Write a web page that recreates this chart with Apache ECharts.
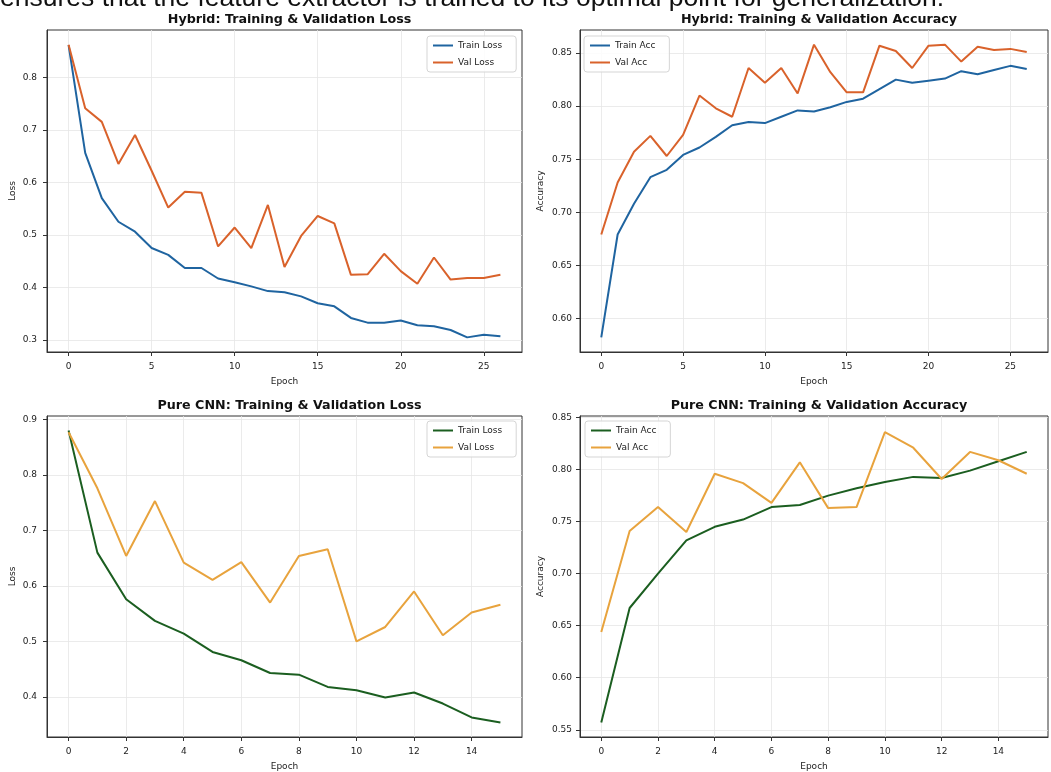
<!DOCTYPE html>
<html>
<head>
<meta charset="utf-8">
<script src="https://cdn.jsdelivr.net/npm/echarts@6/dist/echarts.min.js"></script>
<style>
html,body{margin:0;padding:0;background:#fff;}
#chart{width:1051px;height:772px;}
</style>
</head>
<body>
<div id="chart"></div>
<script>
// ---- data ----
const headline = "ensures that the feature extractor is trained to its optimal point for generalization.";
const hybridTrainLoss = [0.861,0.656,0.570,0.525,0.506,0.475,0.462,0.437,0.437,0.417,0.410,0.402,0.393,0.391,0.383,0.370,0.364,0.342,0.333,0.333,0.337,0.328,0.326,0.319,0.305,0.310,0.307];
const hybridValLoss = [0.862,0.741,0.715,0.635,0.690,0.622,0.552,0.582,0.580,0.478,0.514,0.475,0.557,0.439,0.498,0.536,0.522,0.424,0.425,0.464,0.431,0.407,0.457,0.415,0.418,0.418,0.424];
const hybridTrainAcc = [0.582,0.679,0.708,0.733,0.740,0.754,0.761,0.771,0.782,0.785,0.784,0.790,0.796,0.795,0.799,0.804,0.807,0.816,0.825,0.822,0.824,0.826,0.833,0.830,0.834,0.838,0.835];
const hybridValAcc = [0.679,0.728,0.757,0.772,0.753,0.773,0.810,0.798,0.790,0.836,0.822,0.836,0.812,0.858,0.832,0.813,0.813,0.857,0.852,0.836,0.857,0.858,0.842,0.856,0.853,0.854,0.851];
const cnnTrainLoss = [0.880,0.660,0.576,0.537,0.514,0.481,0.466,0.443,0.440,0.418,0.412,0.399,0.408,0.388,0.363,0.354];
const cnnValLoss = [0.877,0.776,0.654,0.753,0.642,0.611,0.643,0.570,0.654,0.666,0.500,0.526,0.590,0.511,0.552,0.566];
const cnnTrainAcc = [0.557,0.667,0.700,0.732,0.745,0.752,0.764,0.766,0.775,0.782,0.788,0.793,0.792,0.799,0.808,0.817];
const cnnValAcc = [0.644,0.741,0.764,0.740,0.796,0.787,0.768,0.807,0.763,0.764,0.836,0.821,0.791,0.817,0.809,0.796];
const hybridXTicks = [0,5,10,15,20,25];
const cnnXTicks = [0,2,4,6,8,10,12,14];
const lossTicksTop = [0.3,0.4,0.5,0.6,0.7,0.8];
const accTicksTop = [0.60,0.65,0.70,0.75,0.80,0.85];
const lossTicksBottom = [0.4,0.5,0.6,0.7,0.8,0.9];
const accTicksBottom = [0.55,0.60,0.65,0.70,0.75,0.80,0.85];
const titles = ["Hybrid: Training & Validation Loss","Hybrid: Training & Validation Accuracy","Pure CNN: Training & Validation Loss","Pure CNN: Training & Validation Accuracy"];

// ---- helpers ----
const pairs = arr => arr.map((v,i)=>[i,v]);
function bounds(arrs, ticks){
  let mn=Infinity,mx=-Infinity;
  arrs.forEach(a=>a.forEach(v=>{mn=Math.min(mn,v);mx=Math.max(mx,v);}));
  const m=(mx-mn)*0.05; mn-=m; mx+=m;
  // keep edge ticks that sit right at the boundary
  ticks.forEach(t=>{ if (t>mx && t-mx<0.003) mx=t+0.0015; if (t<mn && mn-t<0.003) mn=t-0.0015; });
  return [mn,mx];
}
const FONT = 'DejaVu Sans';
const grids = [
  {left:47, top:30, width:475, height:322},
  {left:580, top:30, width:468, height:322},
  {left:47, top:416, width:475, height:324},
  {left:580, top:416, width:468, height:324}
];
const panelDefs = [
  {tr:hybridTrainLoss, va:hybridValLoss, xt:hybridXTicks, yt:lossTicksTop, yname:'Loss', names:['Train Loss','Val Loss'], colors:['#1f64a0','#d9622b'], yfmt:v=>v.toFixed(1), ngap:30, lm:10},
  {tr:hybridTrainAcc, va:hybridValAcc, xt:hybridXTicks, yt:accTicksTop, yname:'Accuracy', names:['Train Acc','Val Acc'], colors:['#1f64a0','#d9622b'], yfmt:v=>v.toFixed(2), ngap:35, lm:8},
  {tr:cnnTrainLoss, va:cnnValLoss, xt:cnnXTicks, yt:lossTicksBottom, yname:'Loss', names:['CNN Train Loss','CNN Val Loss'], colors:['#1b5e20','#e8a33d'], yfmt:v=>v.toFixed(1), ngap:30, lm:10},
  {tr:cnnTrainAcc, va:cnnValAcc, xt:cnnXTicks, yt:accTicksBottom, yname:'Accuracy', names:['CNN Train Acc','CNN Val Acc'], colors:['#1b5e20','#e8a33d'], yfmt:v=>v.toFixed(2), ngap:35, lm:8}
];
const legendPos = [{left:427,top:36},{left:584,top:36},{left:427,top:421},{left:585,top:421}];

const option = {
  backgroundColor:'#fff',
  animation:false,
  title: titles.map((t,i)=>({
    text:t, left: grids[i].left + grids[i].width/2, top: grids[i].top - 22, textAlign:'center',
    textStyle:{fontFamily:FONT, fontSize:12.7, fontWeight:'bold', color:'#111'}
  })),
  graphic:[{type:'text', left:0, top:-15, style:{text:headline, font:'26.5px "Liberation Sans", Arial, sans-serif', fill:'#111'}}],
  grid: grids.map(g=>Object.assign({show:true, borderColor:'#333', borderWidth:1, backgroundColor:'#fff'}, g)),
  legend: panelDefs.map((p,i)=>({
    data:p.names, orient:'vertical', left:legendPos[i].left, top:legendPos[i].top,
    itemWidth:20, itemHeight:10, itemGap:8, padding:[5,14,5,5],
    itemStyle:{opacity:0},
    backgroundColor:'rgba(255,255,255,0.85)', borderColor:'#d5d5d5', borderWidth:1, borderRadius:3,
    textStyle:{fontFamily:FONT, fontSize:9, color:'#222'},
    formatter: n => n.replace('CNN ','')
  })),
  xAxis: panelDefs.map((p,i)=>{
    const n = p.tr.length-1, m = n*0.05;
    return {
      type:'value', gridIndex:i, min:-m, max:n+m,
      name:'Epoch', nameLocation:'middle', nameGap:25,
      nameTextStyle:{fontFamily:FONT, fontSize:9, color:'#222'},
      axisLine:{show:true, onZero:false, lineStyle:{color:'#333', width:1}},
      axisTick:{show:true, length:4, customValues:p.xt, lineStyle:{color:'#333'}},
      axisLabel:{customValues:p.xt, fontFamily:FONT, fontSize:9, color:'#222', margin:10},
      splitLine:{show:true, lineStyle:{color:'#e6e6e6', width:0.8}}
    };
  }),
  yAxis: panelDefs.map((p,i)=>{
    const [mn,mx] = bounds([p.tr,p.va], p.yt);
    return {
      type:'value', gridIndex:i, min:mn, max:mx,
      name:p.yname, nameLocation:'middle', nameGap:p.ngap, nameRotate:90,
      nameTextStyle:{fontFamily:FONT, fontSize:9, color:'#222'},
      axisLine:{show:true, onZero:false, lineStyle:{color:'#333', width:1}},
      axisTick:{show:true, length:4, customValues:p.yt, lineStyle:{color:'#333'}},
      axisLabel:{customValues:p.yt, formatter:p.yfmt, fontFamily:FONT, fontSize:9, color:'#222', margin:p.lm},
      splitLine:{show:true, lineStyle:{color:'#e6e6e6', width:0.8}}
    };
  }),
  series: panelDefs.flatMap((p,i)=>[
    {type:'line', name:p.names[0], xAxisIndex:i, yAxisIndex:i, data:pairs(p.tr), symbol:'none', color:p.colors[0], lineStyle:{width:2, color:p.colors[0]}},
    {type:'line', name:p.names[1], xAxisIndex:i, yAxisIndex:i, data:pairs(p.va), symbol:'none', color:p.colors[1], lineStyle:{width:2, color:p.colors[1]}}
  ])
};
const chart = echarts.init(document.getElementById('chart'), null, {renderer:'canvas'});
chart.setOption(option);
</script>
</body>
</html>
